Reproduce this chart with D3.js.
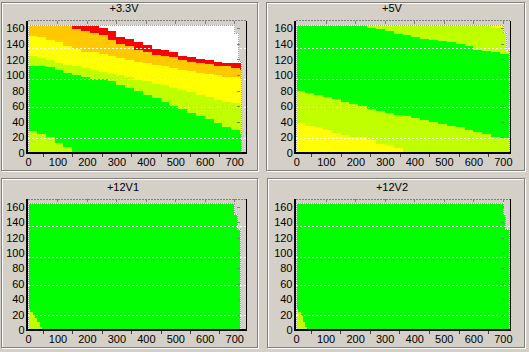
<!DOCTYPE html>
<html>
<head>
<meta charset="utf-8">
<script src="https://cdn.jsdelivr.net/npm/d3@7"></script>
<style>
  body { margin: 0; background: #d4d0c8; }
  svg { display: block; font-family: Arial, "Liberation Sans", sans-serif; }
</style>
</head>
<body>
<div id="chart"></div>
<script>
const WIDTH = 529;
const HEIGHT = 352;
const Y_MAX = 170;
const DATA_TOP = 164;

const TITLES = ['+3.3V', '+5V', '+12V1', '+12V2'];
const X_TICKS = [0, 100, 200, 300, 400, 500, 600, 700];
const X_MINOR = [50, 150, 250, 350, 450, 550, 650];
const Y_TICKS = [0, 20, 40, 60, 80, 100, 120, 140, 160];
const GRID_Y = [19, 59, 95, 135];

// load steps along x
const LOAD_X = [0, 30, 60, 90, 120, 150, 180, 210, 240, 270, 300, 330, 360,
  390, 420, 450, 480, 510, 540, 570, 600, 630, 660, 690, 720];

// +3.3V : upper edge of each zone (white is what is left above red)
const V33_RED_TOP = [164, 164, 164, 164, 164, 164, 164, 164, 161, 156, 149, 146, 142, 139, 134, 132, 130, 125, 123, 120, 119, 117, 116, 116, 116];
const V33_ORANGE_TOP = [164, 164, 164, 164, 164, 159, 156, 154, 151, 145, 140, 137, 132, 130, 126, 124, 123, 119, 117, 116, 114, 112, 111, 109, 107];
const V33_YELLOW_TOP = [150, 149, 145, 142, 137, 133, 130, 129, 127, 124, 122, 119, 117, 115, 113, 111, 109, 107, 105, 103, 101, 100, 98, 97, 95];
const V33_LIME_TOP = [124, 122, 119, 116, 113, 111, 109, 107, 104, 102, 100, 97, 94, 92, 89, 87, 84, 81, 78, 75, 72, 68, 66, 64, 62];
const V33_GREEN_TOP = [112, 112, 110, 107, 103, 100, 97, 95, 95, 92, 87, 83, 79, 75, 70, 66, 60, 56, 51, 47, 43, 38, 34, 29, 25];
const V33_FOOT_TOP = [28, 24, 20, 13, 8, 0];
const V33_EDGE_Y = [153, 117];
const V33_EDGE_X = [702, 713, 725];

// +5V (yellow is what is left at the very top)
const V5_LIME_TOP = [164, 164, 164, 164, 164, 164, 164, 164, 164, 164, 164, 164, 164, 164, 164, 164, 164, 164, 164, 164, 164, 164, 160, 160, 164];
const V5_GREEN_TOP = [164, 164, 164, 164, 164, 164, 164, 164, 160, 159, 156, 153, 152, 149, 146, 145, 144, 142, 140, 137, 132, 131, 129, 127, 124];
const V5_LOW_LIME_TOP = [80, 77, 75, 72, 69, 66, 63, 60, 57, 54, 51, 49, 47, 45, 42, 40, 37, 35, 33, 30, 27, 25, 21, 19, 17];
const V5_YELLOW_TOP = [38, 35, 33, 30, 26, 23, 21, 20, 17, 12, 10, 6, 0];
const V5_EDGE_Y = [154, 132];
const V5_EDGE_X = [702, 713, 721];

// +12V1 / +12V2 (green everywhere but a small corner)
const V12A_X = [0, 8, 16, 24, 32, 40, 46];
const V12A_LIME_TOP = [27, 24, 20, 15, 10, 4, 0];
const V12A_EDGE_Y = [150, 131];
const V12A_EDGE_X = [702, 710, 722];
const V12B_X = [0, 8, 16, 24, 32, 38];
const V12B_LIME_TOP = [27, 24, 18, 11, 4, 0];
const V12B_EDGE_Y = [150, 131];
const V12B_EDGE_X = [702, 710, 721];

const COLORS = {
  white: '#ffffff',
  red: '#ff0000',
  orange: '#ffc800',
  yellow: '#ffff00',
  lime: '#c0ff00',
  green: '#00ff00'
};

const PANELS = [
  {
    title: TITLES[0], base: 'white', edgeY: V33_EDGE_Y, edgeX: V33_EDGE_X,
    layers: [
      ['red', LOAD_X, V33_RED_TOP],
      ['orange', LOAD_X, V33_ORANGE_TOP],
      ['yellow', LOAD_X, V33_YELLOW_TOP],
      ['lime', LOAD_X, V33_LIME_TOP],
      ['green', LOAD_X, V33_GREEN_TOP],
      ['lime', LOAD_X, V33_FOOT_TOP]
    ]
  },
  {
    title: TITLES[1], base: 'yellow', edgeY: V5_EDGE_Y, edgeX: V5_EDGE_X,
    layers: [
      ['lime', LOAD_X, V5_LIME_TOP],
      ['green', LOAD_X, V5_GREEN_TOP],
      ['lime', LOAD_X, V5_LOW_LIME_TOP],
      ['yellow', LOAD_X, V5_YELLOW_TOP]
    ]
  },
  {
    title: TITLES[2], base: 'green', edgeY: V12A_EDGE_Y, edgeX: V12A_EDGE_X,
    layers: [['lime', V12A_X, V12A_LIME_TOP]]
  },
  {
    title: TITLES[3], base: 'green', edgeY: V12B_EDGE_Y, edgeX: V12B_EDGE_X,
    layers: [['lime', V12B_X, V12B_LIME_TOP]]
  }
];

// frame [x, y, w, h], plot [left, top, right, bottom]
const LAYOUT = [
  { frame: [1.5, 2.5, 256, 168], plot: [28, 20.5, 246, 153], xMax: 740, titleX: 124, titleY: 12 },
  { frame: [266.5, 2.5, 258, 168], plot: [296.3, 20.5, 510, 153], xMax: 724, titleX: 392, titleY: 12 },
  { frame: [1.5, 178.5, 256, 169], plot: [28, 199, 246, 330], xMax: 740, titleX: 123, titleY: 191 },
  { frame: [267.5, 178.5, 257, 169], plot: [296, 199, 510, 330], xMax: 724, titleX: 392, titleY: 191 }
];

class LoadMap {
  constructor(svg, panel, layout, idx) {
    this.panel = panel;
    this.layout = layout;
    this.idx = idx;
    this.g = svg.append('g');

    this.setScales();
    this.draw();
  }

  setScales = () => {
    const [l, t, r, b] = this.layout.plot;
    this.x = d3.scaleLinear().domain([0, this.layout.xMax]).range([l, r]);
    this.y = d3.scaleLinear().domain([0, Y_MAX]).range([b, t]);
  }

  draw = () => {
    this.drawFrame();
    this.drawZones();
    this.drawGrid();
    this.drawAxes();
    this.drawTitle();
  }

  drawFrame = () => {
    const [fx, fy, fw, fh] = this.layout.frame;
    this.g.append('rect')
      .attr('x', fx + 1).attr('y', fy + 1)
      .attr('width', fw).attr('height', fh)
      .attr('fill', 'none').attr('stroke', '#ffffff');
    this.g.append('rect')
      .attr('x', fx).attr('y', fy)
      .attr('width', fw).attr('height', fh)
      .attr('fill', 'none').attr('stroke', '#808080');
  }

  regionPoints = () => {
    const { edgeX, edgeY } = this.panel;
    const pts = [[0, 0], [0, DATA_TOP], [edgeX[0], DATA_TOP]];
    edgeY.forEach((v, i) => {
      pts.push([edgeX[i], v], [edgeX[i + 1], v]);
    });
    pts.push([edgeX[edgeX.length - 1], 0]);
    return pts;
  }

  drawZones = () => {
    const line = d3.line().x(d => this.x(d[0])).y(d => this.y(d[1]));
    const region = line(this.regionPoints()) + 'Z';
    const clipId = 'zone-clip-' + this.idx;

    this.g.append('clipPath').attr('id', clipId)
      .append('path').attr('d', region);

    const zones = this.g.append('g').attr('clip-path', `url(#${clipId})`);

    zones.append('path')
      .attr('d', region)
      .attr('fill', COLORS[this.panel.base]);

    const area = d3.area()
      .curve(d3.curveStepAfter)
      .x(d => this.x(d[0]))
      .y0(this.y(0))
      .y1(d => this.y(d[1]));

    zones.selectAll('path.zone')
      .data(this.panel.layers)
      .enter()
      .append('path')
      .attr('class', 'zone')
      .attr('fill', d => COLORS[d[0]])
      .attr('d', d => {
        const pts = d[2].map((v, i) => [d[1][i], v]);
        pts.push([this.layout.xMax, d[2][d[2].length - 1]]);
        return area(pts);
      });

    // dotted outline of the measured region
    this.g.append('path').attr('d', region)
      .attr('fill', 'none').attr('stroke', '#a0a0a0')
      .attr('stroke-dasharray', '1,1');
    this.g.append('path').attr('d', region)
      .attr('fill', 'none').attr('stroke', '#ffffff')
      .attr('stroke-dasharray', '1,1').attr('stroke-dashoffset', 1);
  }

  drawGrid = () => {
    const [l, , r] = this.layout.plot;
    this.g.append('g')
      .selectAll('line')
      .data(GRID_Y)
      .enter()
      .append('line')
      .attr('x1', l).attr('x2', r)
      .attr('y1', d => Math.round(this.y(d)) + 0.5)
      .attr('y2', d => Math.round(this.y(d)) + 0.5)
      .attr('stroke', '#ffffff')
      .attr('stroke-dasharray', '2,2');
  }

  drawAxes = () => {
    const [l, t, r, b] = this.layout.plot;

    const left = this.g.append('g')
      .attr('transform', `translate(${l - 0.5},0)`)
      .call(d3.axisLeft(this.y).tickValues(Y_TICKS).tickSize(0).tickPadding(3));
    const bottom = this.g.append('g')
      .attr('transform', `translate(0,${b})`)
      .call(d3.axisBottom(this.x).tickValues(X_TICKS).tickSize(0).tickPadding(5));

    [left, bottom].forEach(ax => {
      ax.select('.domain').remove();
      ax.selectAll('text')
        .attr('fill', '#000')
        .style('font-family', 'Arial, "Liberation Sans", sans-serif')
        .style('font-size', '11px');
    });

    // small tick marks
    this.g.append('g').selectAll('line')
      .data(X_MINOR).enter().append('line')
      .attr('x1', d => Math.round(this.x(d)) + 0.5)
      .attr('x2', d => Math.round(this.x(d)) + 0.5)
      .attr('y1', b).attr('y2', b + 4)
      .attr('stroke', '#404040');
    this.g.append('g').selectAll('line')
      .data(X_TICKS.slice(1)).enter().append('line')
      .attr('x1', d => Math.round(this.x(d)) + 0.5)
      .attr('x2', d => Math.round(this.x(d)) + 0.5)
      .attr('y1', t).attr('y2', t + 3)
      .attr('stroke', '#808080');
    this.g.append('g').selectAll('line')
      .data(Y_TICKS.slice(1)).enter().append('line')
      .attr('x1', r - 9).attr('x2', r - 6)
      .attr('y1', d => Math.round(this.y(d)) + 0.5)
      .attr('y2', d => Math.round(this.y(d)) + 0.5)
      .attr('stroke', '#808080');

    // plot box
    this.g.append('line')
      .attr('x1', l).attr('x2', r).attr('y1', t).attr('y2', t)
      .attr('stroke', '#808080').attr('stroke-dasharray', '2,1');
    this.g.append('line')
      .attr('x1', r).attr('x2', r).attr('y1', t).attr('y2', b)
      .attr('stroke', '#000');
    this.g.append('line')
      .attr('x1', l - 1).attr('x2', l - 1).attr('y1', t).attr('y2', b + 1)
      .attr('stroke', '#000').attr('stroke-width', 2);
    this.g.append('line')
      .attr('x1', l - 2).attr('x2', r + 0.5).attr('y1', b).attr('y2', b)
      .attr('stroke', '#000').attr('stroke-width', 2);
  }

  drawTitle = () => {
    this.g.append('text')
      .attr('x', this.layout.titleX)
      .attr('y', this.layout.titleY)
      .attr('text-anchor', 'middle')
      .style('font-size', '11px')
      .attr('fill', '#000')
      .text(this.panel.title);
  }
}

const svg = d3.select('#chart').append('svg')
  .attr('width', WIDTH)
  .attr('height', HEIGHT)
  .attr('shape-rendering', 'crispEdges');

svg.append('rect')
  .attr('width', WIDTH).attr('height', HEIGHT)
  .attr('fill', '#d4d0c8');

PANELS.forEach((p, i) => new LoadMap(svg, p, LAYOUT[i], i));
</script>
</body>
</html>
